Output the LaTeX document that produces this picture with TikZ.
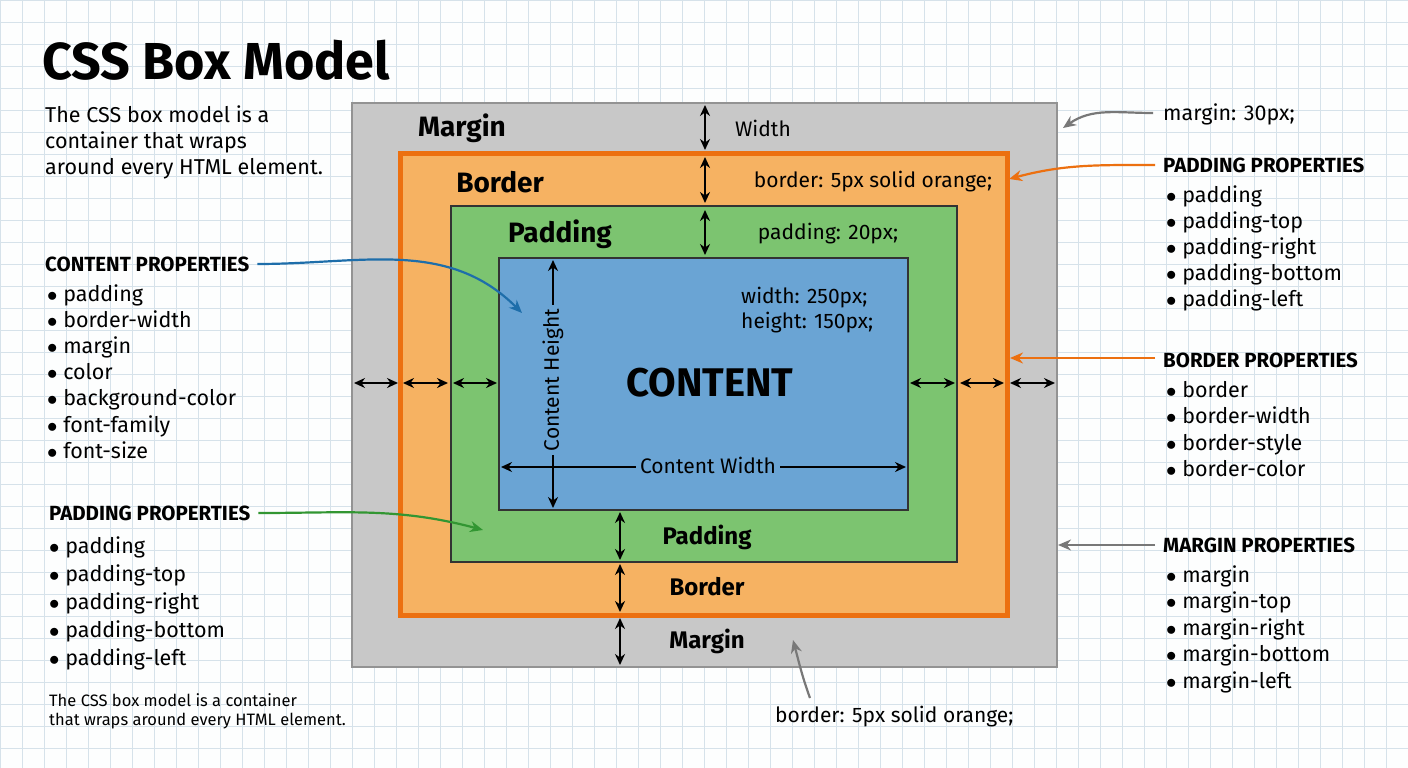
\documentclass[tikz,border=0pt]{standalone}
\usepackage{fontspec}
\setmainfont{Fira Sans}
\usetikzlibrary{positioning,arrows.meta}
\definecolor{gridc}{RGB}{214,226,234}
\definecolor{marginc}{RGB}{200,200,200}
\definecolor{borderc}{RGB}{246,178,98}
\definecolor{borderl}{RGB}{236,112,16}
\definecolor{paddingc}{RGB}{124,196,112}
\definecolor{contentc}{RGB}{106,164,212}
\definecolor{bluea}{RGB}{30,110,170}
\definecolor{greena}{RGB}{50,150,50}
\definecolor{graya}{RGB}{120,120,120}
\tikzset{
  dim/.style={{Stealth[length=11pt,width=10pt]}-{Stealth[length=11pt,width=10pt]}, line width=2.6pt},
  call/.style={-{Stealth[length=13pt,width=11pt]}, line width=2.2pt},
  lbl/.style={font=\fontsize{21}{24}\selectfont, inner sep=1pt},
  boxlbl/.style={font=\fontsize{28}{30}\selectfont\bfseries, inner sep=1pt},
  head/.style={font=\fontsize{20.5}{24}\selectfont\bfseries, anchor=west, inner sep=0pt},
  item/.style={font=\fontsize{21.5}{24}\selectfont, anchor=base west, inner sep=0pt},
}
\newcommand{\itemlist}[4]{% x, y0, step, list
  \foreach \t [count=\i from 0] in {#4}
    \node[item] at (#1,#2+7+\i*#3) {$\bullet$\ \t};
}
\begin{document}
\begin{tikzpicture}[x=1pt,y=-1pt]
\fill[white!96!gridc] (0,0) rectangle (1408,768);
\useasboundingbox (0,0) rectangle (1408,768);
\foreach \gx in {0,22,...,1408} \draw[gridc, line width=0.8pt] (\gx,0) -- (\gx,768);
\foreach \gy in {0,22,...,768} \draw[gridc, line width=0.8pt] (0,\gy) -- (1408,\gy);

% boxes
\draw[fill=marginc, draw=graya!80, line width=1.2pt] (352,103) rectangle (1057,667);
\draw[fill=borderc, draw=borderl, line width=5pt] (400,153) rectangle (1007,615);
\draw[fill=paddingc, draw=black!80, line width=1.2pt] (451,206) rectangle (957,562);
\draw[fill=contentc, draw=black!80, line width=1.2pt] (499,258) rectangle (908,510);

% vertical dimensions
\draw[dim] (705,105) -- (705,150);
\draw[dim] (705,157) -- (705,203);
\draw[dim] (705,210) -- (705,255);
\draw[dim] (620,512) -- (620,560);
\draw[dim] (620,564) -- (620,612);
\draw[dim] (620,618) -- (620,665);
% horizontal dimensions
\draw[dim] (354,383) -- (398,383);
\draw[dim] (403,383) -- (448,383);
\draw[dim] (453,383) -- (497,383);
\draw[dim] (910,383) -- (955,383);
\draw[dim] (960,383) -- (1004,383);
\draw[dim] (1010,383) -- (1055,383);

% content dimensions
\draw[dim] (553,260) -- (553,508);
\node[lbl, rotate=90, fill=contentc, inner sep=4pt] (cheight) at (553,380) {Content Height};
\draw[dim] (501,467) -- (906,467);
\node[lbl, fill=contentc, inner sep=4pt] (cwidth) at (708,465) {Content Width};

% box labels
\node[boxlbl] (lmargin) at (462,128) {Margin};
\node[lbl] (lwidth) at (763,128) {Width};
\node[boxlbl] (lborder) at (500,182) {Border};
\node[lbl] (lborderv) at (873,182) {border: 5px solid orange;};
\node[boxlbl] (lpadding) at (560,234) {Padding};
\node[lbl] (lpaddingv) at (828,234) {padding: 20px;};
\node[lbl, anchor=west] (lw) at (740,298) {width: 250px;};
\node[lbl, anchor=west] (lh) at (740,323) {height: 150px;};
\node[font=\fontsize{40}{44}\selectfont\bfseries] (content) at (710,383) {CONTENT};
\node[font=\fontsize{24}{26}\selectfont\bfseries] (bpadding) at (707,537) {Padding};
\node[font=\fontsize{24}{26}\selectfont\bfseries] (bborder) at (707,587) {Border};
\node[font=\fontsize{24}{26}\selectfont\bfseries] (bmargin) at (707,641) {Margin};

% left side
\node[anchor=west, font=\fontsize{52}{56}\selectfont\bfseries, inner sep=0pt] (title) at (42,60) {CSS Box Model};
\node[item] (d1) at (45,122) {The CSS box model is a};
\node[item] (d2) at (45,148) {container that wraps};
\node[item] (d3) at (45,174) {around every HTML element.};
\node[head] (hcontent) at (45,264) {CONTENT PROPERTIES};
\itemlist{47}{294}{26.2}{padding,border-width,margin,color,background-color,font-family,font-size}
\node[head] (hpadl) at (49,513) {PADDING PROPERTIES};
\itemlist{49}{546}{28}{padding,padding-top,padding-right,padding-bottom,padding-left}
\node[anchor=west, font=\fontsize{16.5}{18}\selectfont, inner sep=0pt] (f1) at (49,700) {The CSS box model is a container};
\node[anchor=west, font=\fontsize{16.5}{18}\selectfont, inner sep=0pt] (f2) at (49,721) {that wraps around every HTML element.};

% right side
\node[item] (mval) at (1163,120) {margin: 30px;};
\node[head] (hpadr) at (1163,165) {PADDING PROPERTIES};
\itemlist{1166}{195}{26.2}{padding,padding-top,padding-right,padding-bottom,padding-left}
\node[head] (hborder) at (1163,360) {BORDER PROPERTIES};
\itemlist{1166}{390}{26.6}{border,border-width,border-style,border-color}
\node[head] (hmargin) at (1163,545) {MARGIN PROPERTIES};
\itemlist{1166}{575}{26.5}{margin,margin-top,margin-right,margin-bottom,margin-left}
\node[lbl, anchor=west] (bval) at (774,717) {border: 5px solid orange;};

% callouts
\coordinate (cmargin) at (1063,128);
\coordinate (cborder) at (1009,179);
\coordinate (cborder2) at (1010,358);
\coordinate (cmargin2) at (1058,545);
\coordinate (cbottom) at (793,640);
\coordinate (cbstart) at (810,698);
\coordinate (ccontent) at (522,313);
\coordinate (cpadding) at (483,530);
\draw[call, graya] (1153,113) to[out=180, in=35] (cmargin);
\draw[call, borderl] (hpadr.west) ++(-8,0) to[out=180, in=15] (cborder);
\draw[call, borderl] (hborder.west) ++(-8,-2) -- (cborder2);
\draw[call, graya] (hmargin.west) ++(-8,0) -- (cmargin2);
\draw[call, graya] (cbstart) to[out=110, in=-75] (cbottom);
\draw[call, bluea] (hcontent.east) ++(8,0) to[out=0, in=135] (ccontent);
\draw[call, greena] (hpadl.east) ++(8,0) to[out=0, in=165] (cpadding);
\end{tikzpicture}
\end{document}
